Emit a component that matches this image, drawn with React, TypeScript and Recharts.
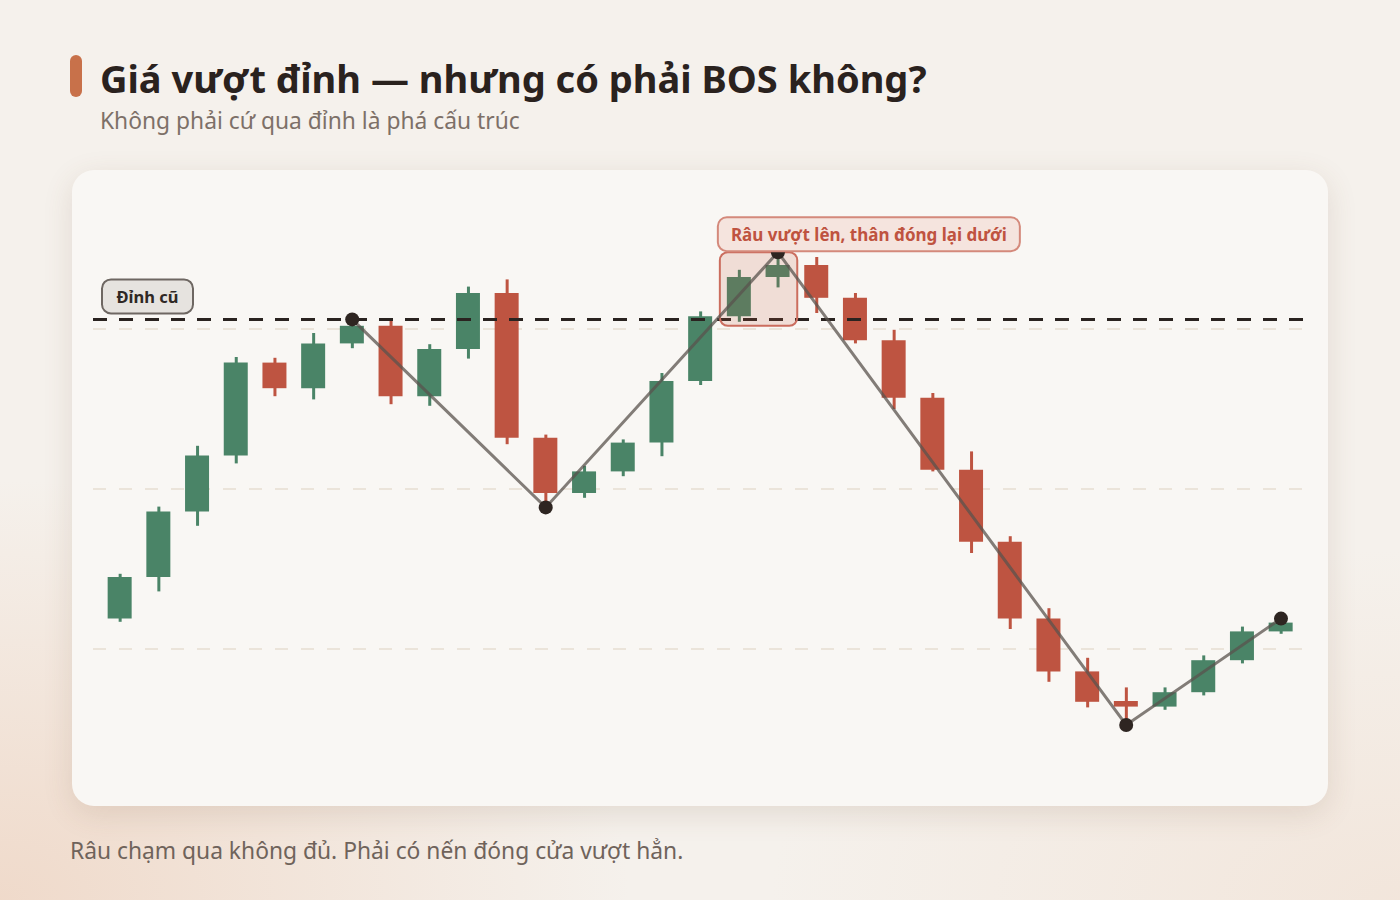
import React from 'react';
import {
  ComposedChart,
  Bar,
  Line,
  XAxis,
  YAxis,
  ReferenceLine,
  ReferenceArea,
  Cell,
} from 'recharts';

// ---------- data ----------
const candleIndex = [
  0, 1, 2, 3, 4, 5, 6, 7, 8, 9, 10, 11, 12, 13, 14, 15,
  16, 17, 18, 19, 20, 21, 22, 23, 24, 25, 26, 27, 28, 29, 30,
];
const opens = [
  101.9, 104.5, 108.6, 112.1, 117.9, 116.3, 119.1, 120.2, 115.8, 118.75, 122.25,
  113.2, 109.75, 111.1, 112.9, 116.75, 120.8, 123.25, 124.0, 121.95, 119.3,
  115.7, 111.2, 106.7, 101.9, 98.6, 96.75, 96.4, 97.3, 99.3, 101.1,
];
const highs = [
  104.7, 108.9, 112.7, 118.25, 118.2, 119.75, 120.6, 120.5, 119.05, 122.65, 123.1,
  113.4, 111.45, 113.1, 117.25, 121.1, 123.7, 124.8, 124.5, 122.25, 119.95,
  116.0, 112.35, 107.05, 102.55, 99.45, 97.6, 97.6, 99.6, 101.4, 101.9,
];
const lows = [
  101.7, 103.6, 107.7, 111.6, 115.8, 115.6, 118.8, 115.3, 115.2, 118.15, 112.8,
  108.85, 109.45, 110.8, 112.05, 116.5, 120.45, 122.6, 121.0, 119.1, 115.0,
  111.1, 106.0, 101.25, 97.95, 96.35, 95.25, 96.2, 97.1, 99.1, 100.95,
];
const closes = [
  104.5, 108.6, 112.1, 117.9, 116.3, 119.1, 120.2, 115.8, 118.75, 122.25, 113.2,
  109.75, 111.1, 112.9, 116.75, 120.8, 123.25, 124.0, 121.95, 119.3, 115.7,
  111.2, 106.7, 101.9, 98.6, 96.7, 96.4, 97.3, 99.3, 101.1, 101.65,
];
const swingIndex = [6, 11, 17, 26, 30];
const swingPrice = [120.6, 108.85, 124.8, 95.25, 101.9];
const gridLevels = [100, 110, 120];
const oldHighLevel = 120.6;
const oldHighText = 'Đỉnh cũ';
const trapCandles = [16, 17];
const trapRange = [120.2, 124.8];
const trapText = 'Râu vượt lên, thân đóng lại dưới';
const priceDomain = [92, 128];

const titleText = 'Giá vượt đỉnh — nhưng có phải BOS không?';
const subtitleText = 'Không phải cứ qua đỉnh là phá cấu trúc';
const footerText = 'Râu chạm qua không đủ. Phải có nến đóng cửa vượt hẳn.';

// ---------- styles ----------
const GREEN = '#4a8467';
const RED = '#be5441';
const FONT = '"Noto Sans", "Open Sans", sans-serif';

const data = candleIndex.map((i, k) => {
  const o = opens[k];
  const c = closes[k];
  const si = swingIndex.indexOf(i);
  return {
    i,
    wick: [lows[k], highs[k]],
    body: [Math.min(o, c), Math.max(o, c)],
    up: c >= o,
    swing: si >= 0 ? swingPrice[si] : null,
  };
});

const renderDot = (props: any) => {
  const { cx, cy, payload, index } = props;
  if (payload == null || payload.swing == null || cx == null || cy == null) {
    return <g key={`d-${index}`} />;
  }
  return <circle key={`d-${index}`} cx={cx} cy={cy} r={7} fill="#2e2521" />;
};

const renderOldHighLabel = (props: any) => {
  const vb = props.viewBox || {};
  const x = vb.x + 9;
  const y = vb.y - 40;
  return (
    <g>
      <rect x={x} y={y} width={91} height={34} rx={9} fill="#e6e3df" stroke="#6e6762" strokeWidth={2} />
      <text
        x={x + 45.5}
        y={y + 17.5}
        textAnchor="middle"
        dominantBaseline="central"
        fontFamily={FONT}
        fontWeight={700}
        fontSize={16.5}
        fill="#2f2824"
      >
        {oldHighText}
      </text>
    </g>
  );
};

const renderTrapArea = (p: any) => (
  <rect
    x={p.x}
    y={p.y}
    width={p.width}
    height={p.height}
    rx={8}
    fill="rgba(190,84,65,0.16)"
    stroke="#cb6d5e"
    strokeWidth={2}
  />
);

const renderCallout = (p: any) => {
  const x = p.x - 2;
  const y = p.y - 35;
  return (
    <g>
      <rect x={x} y={y} width={302} height={34} rx={9} fill="#f5e4de" stroke="#d4897b" strokeWidth={2} />
      <text
        x={x + 151}
        y={y + 17.5}
        textAnchor="middle"
        dominantBaseline="central"
        fontFamily={FONT}
        fontWeight={700}
        fontSize={17}
        fill="#bf5340"
      >
        {trapText}
      </text>
    </g>
  );
};

export default function App() {
  return (
    <div
      style={{
        position: 'fixed',
        left: 0,
        top: 0,
        width: 1400,
        height: 900,
        overflow: 'hidden',
        fontFamily: FONT,
        background:
          'radial-gradient(ellipse 900px 600px at 0% 100%, rgba(238,212,194,0.8), rgba(238,212,194,0) 70%), radial-gradient(ellipse 900px 500px at 100% 100%, rgba(240,222,208,0.6), rgba(240,222,208,0) 70%), #f5f1ec',
      }}
    >
      <div
        style={{
          position: 'absolute',
          left: 70,
          top: 55,
          width: 12,
          height: 42,
          borderRadius: 6,
          background: '#c8714a',
        }}
      />
      <div
        style={{
          position: 'absolute',
          left: 100,
          top: 59,
          fontSize: 38,
          lineHeight: 1,
          fontWeight: 700,
          color: '#2a221e',
          whiteSpace: 'nowrap',
        }}
      >
        {titleText}
      </div>
      <div
        style={{
          position: 'absolute',
          left: 100,
          top: 110,
          fontSize: 22.8,
          lineHeight: 1,
          color: '#7d7068',
          whiteSpace: 'nowrap',
        }}
      >
        {subtitleText}
      </div>
      <div
        style={{
          position: 'absolute',
          left: 72,
          top: 170,
          width: 1256,
          height: 636,
          borderRadius: 22,
          background: '#f9f7f4',
          boxShadow: '0 8px 30px rgba(110,80,50,0.14)',
        }}
      >
        <ComposedChart
          width={1256}
          height={636}
          data={data}
          margin={{ top: 31, right: 25, bottom: 29, left: 21 }}
        >
          <XAxis xAxisId="w" dataKey="i" type="category" hide padding={{ left: 7.65, right: 2.65 }} />
          <XAxis xAxisId="b" dataKey="i" type="category" hide padding={{ left: 7.65, right: 2.65 }} />
          <YAxis yAxisId="p" type="number" domain={priceDomain} hide allowDataOverflow />
          {gridLevels.map((lvl) => (
            <ReferenceLine
              key={`g-${lvl}`}
              xAxisId="b"
              yAxisId="p"
              y={lvl}
              stroke="#ebe4da"
              strokeWidth={2}
              strokeDasharray="13 13"
              zIndex={-100}
            />
          ))}
          <Bar xAxisId="w" yAxisId="p" dataKey="wick" barSize={3} isAnimationActive={false} zIndex={300}>
            {data.map((d) => (
              <Cell key={`w-${d.i}`} fill={d.up ? GREEN : RED} />
            ))}
          </Bar>
          <Bar xAxisId="b" yAxisId="p" dataKey="body" barSize={24} isAnimationActive={false} zIndex={310}>
            {data.map((d) => (
              <Cell key={`b-${d.i}`} fill={d.up ? GREEN : RED} />
            ))}
          </Bar>
          <ReferenceLine
            xAxisId="b"
            yAxisId="p"
            y={oldHighLevel}
            stroke="#2a2320"
            strokeWidth={3}
            strokeDasharray="14 12"
            label={renderOldHighLabel}
            zIndex={320}
          />
          <ReferenceArea
            xAxisId="b"
            yAxisId="p"
            x1={trapCandles[0]}
            x2={trapCandles[1]}
            y1={trapRange[0]}
            y2={trapRange[1]}
            shape={renderTrapArea}
            zIndex={330}
          />
          <Line
            xAxisId="b"
            yAxisId="p"
            dataKey="swing"
            connectNulls
            stroke="#5a534e"
            strokeOpacity={0.75}
            strokeWidth={3}
            dot={renderDot}
            activeDot={false}
            isAnimationActive={false}
            zIndex={400}
          />
          <ReferenceArea
            xAxisId="b"
            yAxisId="p"
            x1={trapCandles[0]}
            x2={trapCandles[1]}
            y1={trapRange[0]}
            y2={trapRange[1]}
            shape={renderCallout}
            zIndex={3000}
          />
        </ComposedChart>
      </div>
      <div
        style={{
          position: 'absolute',
          left: 70,
          top: 840,
          fontSize: 22.8,
          lineHeight: 1,
          color: '#6f635b',
          whiteSpace: 'nowrap',
        }}
      >
        {footerText}
      </div>
    </div>
  );
}
